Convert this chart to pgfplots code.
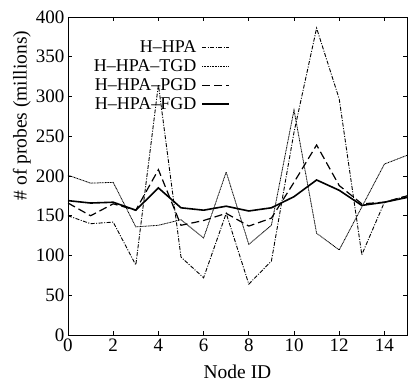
\documentclass[border=0pt]{standalone}
\usepackage{fontspec}
\setmainfont{Liberation Serif}
\usepackage{pgfplots}
\pgfplotsset{compat=1.18}
\begin{document}
\begin{tikzpicture}
\begin{axis}[
  at={(0,0)}, anchor=south west,
  scale only axis, width=339pt, height=318pt,
  xmin=0, xmax=15, ymin=0, ymax=400,
  xtick={0,2,...,14}, ytick={0,50,...,400},
  tick align=inside, major tick length=4pt,
  axis line style={line width=0.9pt},
  every tick/.style={black, line width=0.8pt},
  /pgf/number format/assume math mode=true,
  tick label style={font=\fontsize{19}{19}\selectfont},
  label style={font=\fontsize{19.5}{19.5}\selectfont},
  xlabel={Node ID}, ylabel={\# of probes (millions)},
  xlabel style={yshift=-7pt},
  ylabel style={at={(axis description cs:-0.136,0.69)}, anchor=center},
  legend cell align=right, legend plot pos=right,
  legend image code/.code={\draw[#1] (0pt,0pt) -- (27pt,0pt);},
  legend style={at={(0.487,0.932)}, anchor=north east, draw=none, fill=none,
    font=\fontsize{18}{18}\selectfont, row sep=5.5pt,
    nodes={inner sep=0pt},
    /tikz/every odd column/.append style={column sep=5pt}},
]
\addplot[black, line width=0.9pt, dash pattern=on 4pt off 1.5pt on 1pt off 1.5pt] coordinates {
(0,150) (1,140) (2,142) (3,88) (4,315) (5,98) (6,72) (7,153) (8,64) (9,93) (10,255) (11,386) (12,297) (13,101) (14,167) (15,175)};
\addlegendentry{H--HPA}
\addplot[black, line width=0.8pt, dash pattern=on 1pt off 0.6pt] coordinates {
(0,201) (1,191) (2,192) (3,136) (4,138) (5,145) (6,122) (7,205) (8,114) (9,138) (10,283) (11,128) (12,107) (13,161) (14,215) (15,226)};
\addlegendentry{H--HPA--TGD}
\addplot[black, line width=1.2pt, dash pattern=on 8pt off 4pt] coordinates {
(0,166) (1,150) (2,165) (3,157) (4,208) (5,138) (6,144) (7,153) (8,137) (9,147) (10,192) (11,239) (12,188) (13,165) (14,167) (15,175)};
\addlegendentry{H--HPA--PGD}
\addplot[black, line width=1.6pt] coordinates {
(0,169) (1,166) (2,167) (3,157) (4,185) (5,160) (6,157) (7,162) (8,156) (9,160) (10,174) (11,195) (12,182) (13,163) (14,167) (15,173)};
\addlegendentry{H--HPA--FGD}
\end{axis}
\pgfresetboundingbox
\path[use as bounding box] (-68pt,-50pt) rectangle (343pt,335pt);
\end{tikzpicture}
\end{document}
